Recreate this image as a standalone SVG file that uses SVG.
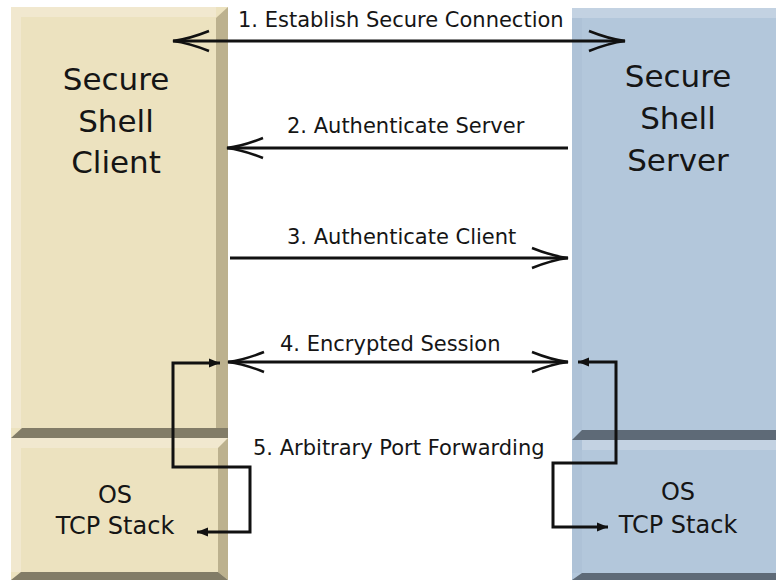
<svg xmlns="http://www.w3.org/2000/svg" width="776" height="580" viewBox="0 0 776 580">
<style>
.t{font-family:"DejaVu Sans","Liberation Sans",sans-serif;fill:#151515}
.title{font-size:31px;text-anchor:middle}
.os{font-size:24px;text-anchor:middle}
.lbl{font-size:21px}
.beige{fill:#ece2bf}
.bhi{fill:#f1e8cf}
.bbev{fill:#bcb18e}
.bdark{fill:#827c67}
.blue{fill:#b3c7db}
.uhi{fill:#c3d2e2}
.uleft{fill:#aec2d7}
.udark{fill:#5e6a77}
.main{fill:none;stroke:#111;stroke-width:3}
.fwd{fill:none;stroke:#111;stroke-width:3}
</style>
<defs>
<marker id="chev" markerUnits="userSpaceOnUse" viewBox="-40 -14 44 28" refX="0" refY="0" markerWidth="44" markerHeight="28" orient="auto-start-reverse">
<path d="M-36,-10 Q-16,-2 0,0 Q-16,2 -36,10" fill="none" stroke="#111" stroke-width="2.5"/>
</marker>
<marker id="tri" markerUnits="userSpaceOnUse" viewBox="-12 -6 14 12" refX="0" refY="0" markerWidth="14" markerHeight="12" orient="auto-start-reverse">
<path d="M-11,-4.5 L0,0 L-11,4.5 Z" fill="#111"/>
</marker>
</defs>
<rect width="776" height="580" fill="#fff"/>
<g id="client">
<rect class="beige" x="11" y="7" width="217" height="431"/>
<rect class="bhi" x="11" y="7" width="205" height="10"/>
<rect class="bhi" x="11" y="7" width="10" height="421"/>
<polygon class="bbev" points="216,18 228,7 228,428 216,428"/>
<polygon class="bdark" points="11,438 22,428 228,428 228,438"/>
<rect class="beige" x="11" y="438" width="217" height="142"/>
<polygon class="bhi" points="11,438 228,438 218,448 11,448"/>
<rect class="bhi" x="11" y="438" width="10" height="134"/>
<polygon class="bbev" points="218,448 228,438 228,580 218,572"/>
<polygon class="bdark" points="21,572 218,572 228,580 11,580"/>
<text class="t title" x="116" y="90">Secure</text>
<text class="t title" x="116" y="132">Shell</text>
<text class="t title" x="116" y="173">Client</text>
<text class="t os" x="115" y="503">OS</text>
<text class="t os" x="115" y="534">TCP Stack</text>
</g>
<g id="server">
<rect class="blue" x="572" y="8" width="204" height="432"/>
<rect class="uhi" x="572" y="8" width="204" height="10"/>
<rect class="uleft" x="572" y="18" width="10" height="412"/>
<polygon class="udark" points="572,440 582,430 776,430 776,440"/>
<rect class="blue" x="572" y="440" width="204" height="140"/>
<rect class="uhi" x="582" y="440" width="194" height="10"/>
<rect class="uleft" x="572" y="440" width="10" height="133"/>
<polygon class="udark" points="582,573 776,573 776,580 572,580"/>
<text class="t title" x="678" y="87">Secure</text>
<text class="t title" x="678" y="129">Shell</text>
<text class="t title" x="678" y="171">Server</text>
<text class="t os" x="678" y="500">OS</text>
<text class="t os" x="678" y="533">TCP Stack</text>
</g>
<g id="connectors">
<path class="main" d="M173,41 H625" marker-start="url(#chev)" marker-end="url(#chev)"/>
<path class="main" d="M568,148 H227" marker-end="url(#chev)"/>
<path class="main" d="M230,258 H568" marker-end="url(#chev)"/>
<path class="main" d="M228,362 H568" marker-start="url(#chev)" marker-end="url(#chev)"/>
<path class="fwd" d="M220,363 H173 V467 H250 V532 H197" marker-start="url(#tri)" marker-end="url(#tri)"/>
<path class="fwd" d="M578,362 H616 V463 H553 V527 H608" marker-start="url(#tri)" marker-end="url(#tri)"/>
</g>
<g id="labels">
<text class="t lbl" x="238" y="27">1. Establish Secure Connection</text>
<text class="t lbl" x="287" y="133">2. Authenticate Server</text>
<text class="t lbl" x="287" y="244">3. Authenticate Client</text>
<text class="t lbl" x="280" y="351">4. Encrypted Session</text>
<text class="t lbl" x="253" y="455">5. Arbitrary Port Forwarding</text>
</g>
</svg>
